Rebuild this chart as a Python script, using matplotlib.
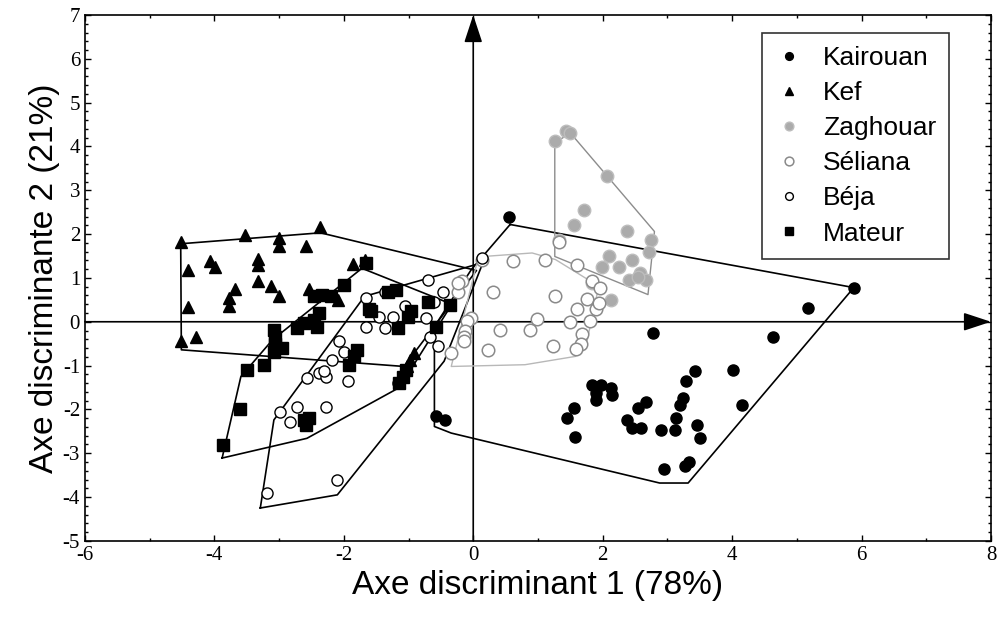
import numpy as np
import matplotlib
matplotlib.use("Agg")
import matplotlib.pyplot as plt
from matplotlib.ticker import MultipleLocator

plt.rcParams['font.family'] = ['Liberation Sans', 'DejaVu Sans']

# --- scores on the two discriminant axes ---
kairouan_x = [0.56, 5.88, 5.18, 4.63, 2.77, 4.02, 4.15, 1.84, 1.97, 2.13, 1.89, 2.15, 1.89,
              1.56, 1.45, 1.58, 2.67, 2.54, 2.38, 2.46, 2.59, 2.90, 3.42, 3.29, 3.24, 3.19,
              3.14, 3.11, 3.45, 3.51, 2.95, 3.27, 3.33, -0.57, -0.43]
kairouan_y = [2.40, 0.78, 0.31, -0.35, -0.26, -1.11, -1.91, -1.44, -1.44, -1.51, -1.63, -1.67,
              -1.78, -1.97, -2.20, -2.62, -1.82, -1.97, -2.24, -2.43, -2.43, -2.47, -1.13, -1.36,
              -1.74, -1.89, -2.20, -2.47, -2.35, -2.66, -3.36, -3.30, -3.19, -2.15, -2.24]

kef_x = [-4.52, -3.53, -3.00, -3.00, -2.59, -2.37, -4.40, -4.07, -3.99, -3.32, -3.32, -3.32,
         -3.68, -3.77, -3.77, -3.13, -3.00, -4.40, -4.52, -4.29, -2.53, -1.86, -1.67, -2.09,
         -0.92, -0.97, -1.02]
kef_y = [1.81, 1.99, 1.91, 1.72, 1.74, 2.16, 1.17, 1.38, 1.26, 1.43, 1.30, 0.94,
         0.75, 0.54, 0.35, 0.81, 0.59, 0.33, -0.45, -0.34, 0.75, 1.32, 1.42, 0.50,
         -0.72, -0.87, -1.02]

zaghouar_x = [1.43, 1.27, 1.50, 2.07, 1.71, 1.56, 2.38, 2.75, 1.32, 2.10, 1.99, 2.46, 2.57,
              2.67, 2.25, 2.41, 2.13, 1.84, 2.54, 2.72]
zaghouar_y = [4.35, 4.12, 4.30, 3.32, 2.56, 2.21, 2.06, 1.87, 1.87, 1.49, 1.26, 1.42, 1.11,
              0.96, 1.26, 0.96, 0.50, 0.88, 1.03, 1.60]

seliana_x = [0.13, 0.62, 1.11, 1.32, 1.61, 1.84, 1.96, 1.76, 1.60, 1.89, 1.94, 1.50, 1.81,
             0.98, 0.41, 0.88, 1.68, 1.66, 1.59, 1.24, 0.23, 0.31, 1.27, -0.18, -0.23,
             -0.03, -0.10, -0.13, -0.15, -0.15, -0.34, -0.23]
seliana_y = [1.41, 1.38, 1.42, 1.83, 1.30, 0.92, 0.77, 0.53, 0.30, 0.29, 0.43, 0.00, 0.01,
             0.07, -0.18, -0.19, -0.28, -0.51, -0.62, -0.56, -0.64, 0.67, 0.58, 0.92, 0.69,
             0.08, 0.01, -0.22, -0.35, -0.45, -0.71, 0.88]

beja_x = [-3.19, -2.11, -2.98, -2.83, -2.72, -2.28, -2.57, -2.38, -2.27, -2.18, -2.07, -2.00,
          -1.94, -1.66, -1.66, -1.37, -1.45, -1.24, -1.06, -1.37, -0.70, -0.47, -0.73, -0.67,
          -0.54, -0.60, -2.31, -1.17, 0.13]
beja_y = [-3.91, -3.61, -2.05, -2.28, -1.95, -1.95, -1.29, -1.17, -1.25, -0.87, -0.45, -0.68,
          -1.36, 0.54, -0.11, -0.14, 0.12, 0.12, 0.35, 0.69, 0.96, 0.69, 0.08, -0.34,
          -0.56, 0.46, -1.13, -1.40, 1.45]

mateur_x = [-3.86, -3.60, -3.50, -3.24, -3.08, -2.96, -3.06, -3.06, -3.08, -2.72, -2.62, -2.46,
            -2.41, -2.38, -2.46, -2.33, -2.20, -2.00, -1.66, -1.58, -1.61, -1.32, -1.19, -1.01,
            -0.96, -1.17, -0.70, -0.36, -0.57, -1.79, -1.84, -1.92, -1.09, -1.14, -1.04,
            -2.62, -2.54, -2.59]
mateur_y = [-2.81, -1.99, -1.10, -0.98, -0.68, -0.60, -0.50, -0.34, -0.18, -0.14, -0.03, 0.05,
            -0.11, 0.20, 0.58, 0.60, 0.59, 0.84, 1.34, 0.24, 0.30, 0.69, 0.73, 0.12,
            0.24, -0.14, 0.46, 0.39, -0.11, -0.64, -0.79, -0.98, -1.25, -1.40, -1.10,
            -2.24, -2.20, -2.35]

# --- group envelopes (polygon vertices) ---
kairouan_hull = [(0.57, 2.22), (5.88, 0.78), (3.32, -3.68), (2.88, -3.68), (-0.34, -2.54),
                 (-0.60, -2.39), (-0.60, -0.11), (-0.03, 1.19)]
kef_hull = [(-4.52, 1.78), (-2.36, 2.03), (0.05, 1.17), (-1.07, -1.02), (-4.51, -0.64)]
zaghouar_hull = [(1.50, 4.31), (2.80, 2.06), (2.70, 0.62), (1.26, 1.49), (1.26, 4.08)]
seliana_hull = [(0.16, 1.49), (0.91, 1.57), (1.27, 1.42), (1.94, 0.81), (1.74, -0.56),
                (1.58, -0.79), (0.80, -0.98), (-0.34, -1.02), (0.05, 1.30)]
beja_hull = [(-3.29, -4.25), (-3.08, -2.24), (-1.68, 0.58), (0.15, 1.35), (-0.45, -0.90),
             (-2.10, -3.95)]
mateur_hull = [(-3.88, -3.11), (-3.59, -1.25), (-3.10, -0.41), (-1.72, 1.22), (-0.33, 0.40),
               (-1.14, -1.50), (-2.57, -2.66)]


def draw_hull(ax, pts, color, lw=1.2):
    xs = [p[0] for p in pts] + [pts[0][0]]
    ys = [p[1] for p in pts] + [pts[0][1]]
    ax.plot(xs, ys, color=color, lw=lw, zorder=2)


fig = plt.figure(figsize=(9.99, 6.26), dpi=100)
ax = fig.add_axes([0.085, 0.136, 0.907, 0.840])

ax.set_xlim(-6, 8)
ax.set_ylim(-5, 7)

# axes through the origin with arrows
arrow = dict(arrowstyle='-|>,head_length=0.85,head_width=0.28', color='black', lw=1.2,
             mutation_scale=20, shrinkA=0, shrinkB=0)
ax.annotate('', xy=(8, 0), xytext=(-6, 0), arrowprops=arrow, zorder=1)
ax.annotate('', xy=(0, 7), xytext=(0, -5), arrowprops=arrow, zorder=1)

draw_hull(ax, kairouan_hull, 'black')
draw_hull(ax, kef_hull, 'black')
draw_hull(ax, beja_hull, 'black')
draw_hull(ax, mateur_hull, 'black')
draw_hull(ax, zaghouar_hull, '#8c8c8c', lw=1.0)
draw_hull(ax, seliana_hull, '#b8b8b8', lw=1.0)

ms = 8
ax.plot(kairouan_x, kairouan_y, 'o', color='black', ms=ms, ls='none', label='Kairouan', zorder=4)
ax.plot(kef_x, kef_y, '^', color='black', ms=ms, ls='none', label='Kef', zorder=4)
ax.plot(zaghouar_x, zaghouar_y, 'o', color='#ababab', mec='#bdbdbd', ms=ms + 1, ls='none',
        label='Zaghouar', zorder=3)
ax.plot(seliana_x, seliana_y, 'o', mfc='white', mec='#8a8a8a', mew=1.1, ms=ms + 1, ls='none',
        label='Séliana', zorder=3)
ax.plot(beja_x, beja_y, 'o', mfc='white', mec='black', mew=1.0, ms=ms, ls='none',
        label='Béja', zorder=4)
ax.plot(mateur_x, mateur_y, 's', color='black', ms=ms, ls='none', label='Mateur', zorder=4)

ax.xaxis.set_major_locator(MultipleLocator(2))
ax.xaxis.set_minor_locator(MultipleLocator(1))
ax.yaxis.set_major_locator(MultipleLocator(1))
ax.yaxis.set_minor_locator(MultipleLocator(0.2))
ax.tick_params(which='both', direction='in', top=True, right=True, width=1.0)
ax.tick_params(which='major', length=4, labelsize=15)
ax.tick_params(which='minor', length=2.5)
ax.xaxis.set_major_formatter(matplotlib.ticker.FuncFormatter(lambda v, p: '%d' % v))
ax.yaxis.set_major_formatter(matplotlib.ticker.FuncFormatter(lambda v, p: '%d' % v))
for lab in ax.get_xticklabels() + ax.get_yticklabels():
    lab.set_fontfamily('Liberation Serif')
for s in ax.spines.values():
    s.set_linewidth(1.2)

ax.set_xlabel('Axe discriminant 1 (78%)', fontsize=24, labelpad=4)
ax.set_ylabel('Axe discriminante 2 (21%)', fontsize=24, labelpad=2)

leg = ax.legend(loc='upper right', bbox_to_anchor=(0.954, 0.966), borderaxespad=0,
                fontsize=19, markerscale=0.7, handlelength=1.0, handletextpad=0.8,
                labelspacing=0.42, frameon=True, fancybox=False, borderpad=0.5)
leg.get_frame().set_edgecolor('black')
leg.get_frame().set_linewidth(1.2)

fig.savefig('out.png', dpi=100)
